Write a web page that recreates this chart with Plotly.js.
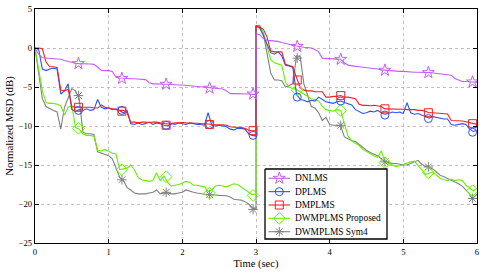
<!DOCTYPE html>
<html>
<head>
<meta charset="utf-8">
<script src="https://cdn.plot.ly/plotly-3.0.1.min.js"></script>
<style>html,body{margin:0;padding:0;background:#fff}#chart{width:491px;height:273px}</style>
</head>
<body>
<div id="chart"></div>
<script>
// time grid (sec): first segment 0..3, second segment 3..6 (abrupt change at 3 s)
const timeA = [0,0.05,0.1,0.15,0.2,0.25,0.3,0.35,0.4,0.45,0.5,0.55,0.6,0.65,0.7,0.75,0.8,0.85,0.9,0.95,1.0,1.05,1.1,1.15,1.2,1.25,1.3,1.35,1.4,1.45,1.5,1.55,1.6,1.65,1.7,1.75,1.8,1.85,1.9,1.95,2.0,2.05,2.1,2.15,2.2,2.25,2.3,2.35,2.4,2.45,2.5,2.55,2.6,2.65,2.7,2.75,2.8,2.85,2.9,2.95,3.0];
const timeB = [3.0,3.05,3.1,3.15,3.2,3.25,3.3,3.35,3.4,3.45,3.5,3.55,3.6,3.65,3.7,3.75,3.8,3.85,3.9,3.95,4.0,4.05,4.1,4.15,4.2,4.25,4.3,4.35,4.4,4.45,4.5,4.55,4.6,4.65,4.7,4.75,4.8,4.85,4.9,4.95,5.0,5.05,5.1,5.15,5.2,5.25,5.3,5.35,5.4,5.45,5.5,5.55,5.6,5.65,5.7,5.75,5.8,5.85,5.9,5.95,6.0];

const seriesNames = ['DNLMS','DPLMS','DMPLMS','DWMPLMS Proposed','DWMPLMS Sym4'];

const dnlmsA = [0,-0.8,-1.25,-1.3,-1.3,-1.35,-1.4,-1.45,-1.6,-1.75,-1.85,-1.95,-2.0,-2.0,-2.0,-2.05,-2.1,-2.5,-2.85,-2.9,-2.9,-3.0,-3.75,-3.85,-3.9,-3.9,-3.95,-3.95,-4.0,-4.0,-4.05,-4.45,-4.6,-4.6,-4.65,-4.65,-4.65,-4.7,-4.7,-4.75,-4.75,-4.8,-4.85,-4.85,-4.9,-4.95,-5.0,-5.1,-5.15,-5.2,-5.2,-5.25,-5.5,-5.85,-5.85,-5.85,-5.9,-5.9,-5.9,-5.95,-5.95];
const dnlmsB = [1.85,1.7,1.2,1.0,0.95,0.9,0.85,0.7,0.55,0.45,0.35,0.25,0.15,0.1,0.05,0.0,-0.2,-0.5,-1.3,-1.35,-1.38,-1.4,-1.42,-1.45,-1.9,-2.2,-2.3,-2.35,-2.4,-2.45,-2.5,-2.55,-2.6,-2.7,-2.8,-2.85,-2.9,-2.95,-2.95,-3.0,-3.0,-3.05,-3.05,-3.1,-3.1,-3.15,-3.15,-3.15,-3.2,-3.25,-3.3,-3.4,-3.45,-3.5,-3.9,-4.15,-4.3,-4.3,-4.35,-4.35,-4.4];

const dplmsA = [0,-0.2,-2.7,-2.9,-2.7,-2.6,-2.7,-5.9,-5.5,-4.6,-7.9,-8.1,-7.9,-8.0,-7.8,-8.0,-7.9,-6.6,-7.6,-7.8,-7.7,-7.9,-7.8,-8.0,-8.3,-8.0,-9.7,-9.8,-9.6,-9.8,-9.7,-9.5,-9.8,-9.6,-9.7,-9.9,-10.0,-9.7,-9.8,-9.6,-9.7,-9.8,-9.6,-9.7,-9.8,-9.8,-9.9,-8.3,-9.9,-10.0,-9.9,-10.0,-10.1,-10.4,-10.5,-10.3,-10.3,-10.4,-11.0,-11.2,-11.3];
const dplmsB = [2.9,2.6,1.6,0.6,-0.6,-0.8,-0.5,-1.0,-2.2,-2.3,-2.5,-5.9,-6.6,-6.7,-6.9,-6.7,-6.8,-6.3,-6.6,-6.9,-7.0,-7.1,-6.9,-6.8,-7.0,-7.2,-7.3,-7.9,-8.2,-8.4,-8.3,-8.1,-8.2,-8.0,-8.3,-8.5,-8.4,-8.2,-8.3,-8.2,-8.4,-7.0,-8.3,-8.5,-8.4,-8.6,-8.8,-9.0,-8.8,-8.9,-9.0,-9.1,-9.1,-9.8,-9.9,-9.8,-9.7,-9.8,-10.4,-10.7,-10.5];

const dmplmsA = [0,0,-0.1,-1.8,-2.4,-2.4,-2.5,-5.4,-5.5,-5.3,-7.5,-7.6,-7.6,-7.6,-7.65,-7.6,-7.7,-7.7,-7.3,-7.6,-7.7,-7.8,-7.9,-8.0,-8.0,-8.3,-9.5,-9.5,-9.6,-9.5,-9.5,-9.55,-9.5,-9.5,-9.6,-9.7,-9.75,-9.7,-9.6,-9.6,-9.55,-9.6,-9.6,-9.65,-9.65,-9.7,-9.7,-9.75,-9.8,-9.8,-9.8,-9.85,-9.9,-10.1,-10.15,-10.15,-10.2,-10.3,-10.55,-10.6,-10.6];
const dmplmsB = [2.8,2.7,2.4,1.4,-0.4,-0.5,-0.5,-0.5,-2.1,-2.3,-2.4,-3.8,-5.1,-5.4,-5.5,-5.5,-5.6,-5.6,-5.6,-6.3,-6.3,-6.2,-6.2,-6.1,-6.3,-6.3,-6.4,-6.5,-7.2,-7.35,-7.35,-7.4,-7.35,-7.4,-7.5,-7.8,-7.8,-7.8,-7.8,-7.85,-7.85,-7.9,-7.9,-7.9,-8.0,-8.0,-8.1,-8.3,-8.3,-8.35,-8.4,-8.4,-8.45,-9.3,-9.3,-9.35,-9.35,-9.45,-9.6,-9.75,-9.8];

const proposedA = [0,-2.5,-5.5,-7.0,-7.1,-7.1,-7.2,-7.4,-8.6,-7.6,-7.4,-10.2,-10.4,-11.0,-11.2,-11.2,-11.3,-13.1,-13.2,-13.0,-13.3,-13.5,-13.6,-15.6,-15.5,-15.4,-15.0,-15.6,-16.6,-16.9,-17.0,-17.1,-17.0,-16.0,-17.0,-16.4,-17.2,-17.7,-17.6,-17.5,-17.3,-17.1,-17.2,-17.6,-17.6,-17.7,-17.8,-18.4,-18.2,-17.7,-17.6,-17.7,-17.8,-17.6,-17.4,-17.5,-17.8,-18.1,-18.4,-18.8,-18.7];
const proposedB = [2.7,2.5,2.0,0.2,-1.5,-1.9,-2.1,-2.2,-4.4,-5.0,-5.2,-5.3,-5.6,-5.9,-6.3,-6.5,-6.6,-6.8,-7.5,-7.9,-8.0,-8.1,-7.9,-8.0,-9.7,-11.3,-11.9,-12.2,-12.5,-13.0,-13.3,-13.6,-13.8,-14.0,-13.2,-14.6,-14.8,-15.0,-15.2,-15.1,-14.9,-14.8,-14.6,-14.5,-15.0,-15.6,-16.2,-16.0,-15.9,-16.3,-16.7,-16.9,-17.0,-16.8,-17.0,-16.9,-17.0,-17.6,-18.0,-18.3,-18.0];

const sym4A = [0,-3.0,-6.5,-7.5,-7.8,-8.0,-8.2,-10.4,-7.6,-6.5,-5.2,-5.5,-6.5,-10.8,-11.0,-11.0,-11.1,-13.3,-13.5,-13.7,-13.8,-14.2,-15.5,-16.6,-17.0,-17.9,-18.2,-18.6,-18.7,-18.7,-18.7,-18.6,-18.5,-18.2,-18.7,-18.6,-18.6,-18.7,-18.7,-18.6,-18.5,-18.2,-18.4,-18.5,-18.6,-18.7,-18.75,-18.8,-18.8,-18.85,-18.9,-18.9,-18.95,-19.1,-19.4,-19.45,-19.5,-19.7,-20.0,-20.5,-20.6];
const sym4B = [2.8,2.9,1.8,-0.8,-3.2,-4.1,-4.1,-4.2,-5.0,-4.8,-4.6,-1.0,-1.1,-4.6,-6.2,-7.5,-7.7,-8.3,-9.3,-8.9,-9.8,-9.9,-9.9,-10.0,-11.4,-11.7,-11.9,-12.0,-12.4,-12.8,-13.1,-13.4,-13.6,-13.8,-14.2,-14.6,-14.7,-14.8,-14.8,-14.9,-15.0,-15.0,-14.8,-14.5,-14.4,-14.9,-15.2,-15.3,-15.5,-15.9,-16.3,-16.5,-16.7,-16.9,-17.1,-17.4,-17.7,-18.2,-18.8,-19.2,-18.7];

// marker positions (sec) and marker values
const markTime = [0.59,1.18,1.78,2.37,2.96,3.56,4.15,4.75,5.34,5.94];
const dnlmsMarks = [-2.0,-3.9,-4.65,-5.15,-5.9,0.2,-1.45,-2.85,-3.15,-4.35];
const dplmsMarks = [-8.0,-8.0,-9.9,-9.8,-11.2,-6.3,-6.8,-8.6,-9.05,-10.8];
const dmplmsMarks = [-7.6,-8.1,-9.9,-9.8,-10.6,-4.1,-6.1,-7.8,-8.3,-9.7];
const proposedMarks = [-10.3,-15.6,-16.5,-18.6,-18.9,-5.4,-8.0,-14.7,-16.0,-18.3];
const sym4Marks = [-6.1,-16.9,-18.5,-18.8,-20.7,-1.3,-9.9,-14.6,-15.25,-19.3];

const xTicks = [0,1,2,3,4,5,6];
const yTicks = [-25,-20,-15,-10,-5,0,5];

const styles = [
  {color:'#c45ef2', symbol:'star-open', size:9},
  {color:'#2a52f5', symbol:'circle-open', size:8},
  {color:'#f52020', symbol:'square-open', size:8},
  {color:'#66f000', symbol:'diamond-open', size:9},
  {color:'#808080', symbol:'asterisk-open', size:8}
];
const lineData = [[dnlmsA,dnlmsB],[dplmsA,dplmsB],[dmplmsA,dmplmsB],[proposedA,proposedB],[sym4A,sym4B]];
const markData = [dnlmsMarks,dplmsMarks,dmplmsMarks,proposedMarks,sym4Marks];
const drawOrder = [4,3,1,2,0];

const timeAll = timeA.concat(timeB);
const traces = [];
drawOrder.forEach(i => {
  const s = styles[i];
  traces.push({
    x: timeAll, y: lineData[i][0].concat(lineData[i][1]),
    type:'scatter', mode:'lines', name: seriesNames[i], showlegend:false,
    line:{color:s.color, width:1.1}, hoverinfo:'skip'
  });
});
drawOrder.forEach(i => {
  const s = styles[i];
  traces.push({
    x: markTime, y: markData[i],
    type:'scatter', mode:'markers', name: seriesNames[i], showlegend:false,
    marker:{color:s.color, symbol:s.symbol, size:s.size, line:{color:s.color, width:1}}
  });
});

// custom legend drawn on a hidden pixel-coordinate overlay axis pair
const legendLeft = 265, legendTop = 169, legendRight = 387, legendBottom = 239;
traces.push({x:[legendLeft, legendRight, legendRight, legendLeft, legendLeft],
  y:[legendTop, legendTop, legendBottom, legendBottom, legendTop],
  xaxis:'x2', yaxis:'y2', type:'scatter', mode:'lines', fill:'toself', fillcolor:'#fff',
  line:{color:'#000', width:1.3}, showlegend:false, hoverinfo:'skip'});
const annotations = [];
seriesNames.forEach((nm, i) => {
  const s = styles[i];
  const yc = 178.3 + i*13.35;
  traces.push({x:[268.5, 290], y:[yc, yc], xaxis:'x2', yaxis:'y2', type:'scatter', mode:'lines',
    line:{color:s.color, width:1.1}, showlegend:false, hoverinfo:'skip'});
  traces.push({x:[279.3], y:[yc], xaxis:'x2', yaxis:'y2', type:'scatter', mode:'markers',
    marker:{color:s.color, symbol:s.symbol, size:s.size, line:{color:s.color, width:1}}, showlegend:false, hoverinfo:'skip'});
  annotations.push({xref:'x2', yref:'y2', x:293, y:yc, text:nm, showarrow:false, xanchor:'left', yanchor:'middle',
    font:{family:'Liberation Serif, Times New Roman, serif', size:9.4, color:'#000'}});
});

const axisFont = {family:'Liberation Serif, Times New Roman, serif', size:8.6, color:'#000'};
const layout = {
  width:491, height:273,
  margin:{l:35, r:14, t:9, b:30},
  paper_bgcolor:'#fff', plot_bgcolor:'#fff',
  showlegend:false,
  font:{family:'Liberation Serif, Times New Roman, serif', color:'#000'},
  xaxis:{range:[0,6], tickvals:xTicks, ticktext:xTicks.map(String), ticks:'inside', ticklen:4, tickcolor:'#000',
    showline:true, mirror:'ticks', linecolor:'#000', linewidth:1.2, showgrid:true, gridcolor:'#b0b0b0', griddash:'dot', gridwidth:0.8,
    zeroline:false, tickfont:axisFont, title:{text:'Time (sec)', font:{family:'Liberation Serif, Times New Roman, serif', size:10.5, color:'#000'}, standoff:4}},
  yaxis:{range:[-25,5], tickvals:yTicks, ticks:'inside', ticklen:4, tickcolor:'#000',
    showline:true, mirror:'ticks', linecolor:'#000', linewidth:1.2, showgrid:true, gridcolor:'#b0b0b0', griddash:'dot', gridwidth:0.8,
    zeroline:false, tickfont:axisFont, title:{text:'Normalized MSD (dB)', font:{family:'Liberation Serif, Times New Roman, serif', size:10.8, color:'#000'}, standoff:2}},
  xaxis2:{overlaying:'x', range:[35,477], visible:false, fixedrange:true},
  yaxis2:{overlaying:'y', range:[243,9], visible:false, fixedrange:true},
  annotations: annotations
};
Plotly.newPlot('chart', traces, layout, {displayModeBar:false, staticPlot:true});
</script>
</body>
</html>
